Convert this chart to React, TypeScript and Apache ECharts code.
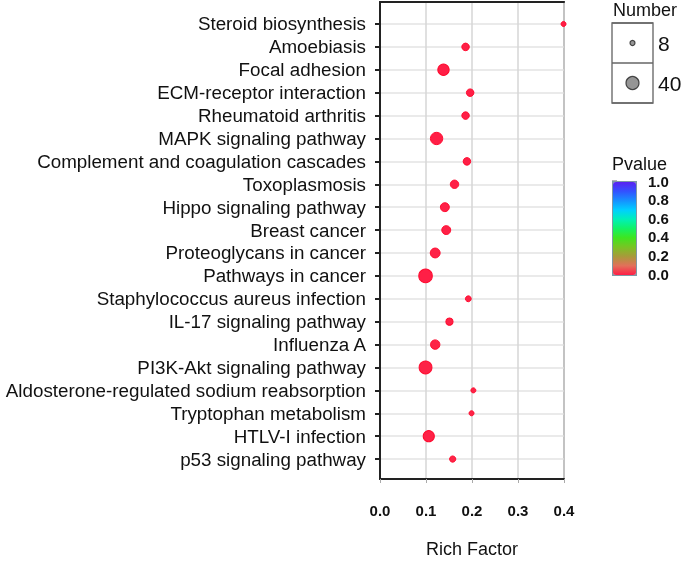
import { useEffect, useRef } from "react";
import * as echarts from "echarts";

const categories = [
  "Steroid biosynthesis",
  "Amoebiasis",
  "Focal adhesion",
  "ECM-receptor interaction",
  "Rheumatoid arthritis",
  "MAPK signaling pathway",
  "Complement and coagulation cascades",
  "Toxoplasmosis",
  "Hippo signaling pathway",
  "Breast cancer",
  "Proteoglycans in cancer",
  "Pathways in cancer",
  "Staphylococcus aureus infection",
  "IL-17 signaling pathway",
  "Influenza A",
  "PI3K-Akt signaling pathway",
  "Aldosterone-regulated sodium reabsorption",
  "Tryptophan metabolism",
  "HTLV-I infection",
  "p53 signaling pathway",
];
const richFactor = [0.399, 0.186, 0.138, 0.196, 0.186, 0.123, 0.189, 0.162, 0.141, 0.144, 0.12, 0.099, 0.192, 0.151, 0.12, 0.099, 0.203, 0.199, 0.106, 0.158];
const geneNumber = [8, 15, 31, 15, 15, 36, 15, 18, 20, 20, 24, 43, 10, 14, 22, 39, 8, 8, 30, 11];
const pValue = [0.0004, 0.0021, 0.0009, 0.0015, 0.0026, 0.0011, 0.0018, 0.0032, 0.0041, 0.0038, 0.0044, 0.0012, 0.0051, 0.0062, 0.0071, 0.0058, 0.0066, 0.0073, 0.0049, 0.0081];
const richTicks = [0, 0.1, 0.2, 0.3, 0.4];
const sizeBreaks = [8, 40];
const pColors = ["#ff1e46", "#e2705a", "#a89a3a", "#78c424", "#3fe520", "#12f266", "#00f0b8", "#00cfff", "#1690ff", "#3352ff", "#5a22f0"];

const FONT = "Liberation Sans, Arial, Helvetica, sans-serif";
const sizeOf = (n: number) => Math.sqrt(Math.max(4.5 * n - 11, 4));

export default function App() {
  const ref = useRef<HTMLDivElement>(null);
  useEffect(() => {
    if (!ref.current) return;
    const chart = echarts.init(ref.current, null, { renderer: "svg" });
    const N = categories.length;
    const idx = categories.map((_, i) => i);
    const mainData = categories.map((_, i) => [richFactor[i], N - 1 - i, geneNumber[i], pValue[i]]);
    chart.setOption({
      animation: false,
      textStyle: { fontFamily: FONT },
      title: [
        { text: "Number", left: 613, top: 1, padding: 0, textStyle: { fontSize: 18, lineHeight: 18, fontWeight: "normal", color: "#111", fontFamily: FONT } },
        { text: "Pvalue", left: 612, top: 155, padding: 0, textStyle: { fontSize: 18, lineHeight: 18, fontWeight: "normal", color: "#111", fontFamily: FONT } },
      ],
      grid: [
        { left: 380, top: 2, width: 184, height: 477, show: true, borderColor: "#8c8c8c", borderWidth: 2, containLabel: false, outerBoundsMode: "none" },
        { left: 612, top: 23, width: 41, height: 80, show: true, borderColor: "#777", borderWidth: 1.5, outerBoundsMode: "none" },
        { left: 612, top: 181, width: 23, height: 93, show: false, outerBoundsMode: "none" },
      ],
      xAxis: [
        {
          gridIndex: 0, type: "value", min: 0, max: 0.4, interval: 0.1,
          axisLine: { show: true, onZero: false, lineStyle: { color: "#222", width: 2 } },
          axisTick: { show: true, length: 4, lineStyle: { color: "#aaa" } },
          axisLabel: { formatter: (v: number) => v.toFixed(1), fontSize: 15, fontWeight: "bold", color: "#111", margin: 24, fontFamily: FONT, customValues: richTicks },
          splitLine: { show: true, lineStyle: { color: "#d6d6d6", width: 1.5 } },
          name: "Rich Factor", nameLocation: "middle", nameGap: 61,
          nameTextStyle: { fontSize: 18, lineHeight: 18, color: "#111", fontFamily: FONT },
        },
        {
          gridIndex: 0, type: "value", min: 0, max: 0.4, position: "top",
          axisLine: { show: true, onZero: false, lineStyle: { color: "#222", width: 2 } },
          axisTick: { show: false }, axisLabel: { show: false }, splitLine: { show: false },
        },
        { gridIndex: 1, type: "value", min: -1, max: 1, show: false },
        { gridIndex: 2, type: "value", min: 0, max: 1, show: false },
      ],
      yAxis: [
        {
          gridIndex: 0, type: "value", min: -0.87, max: 19.96,
          axisLine: { show: true, onZero: false, lineStyle: { color: "#222", width: 2 } },
          axisTick: { show: true, length: 5, customValues: idx, lineStyle: { color: "#222", width: 2 } },
          axisLabel: {
            customValues: idx,
            formatter: (v: number) => categories[N - 1 - Math.round(v)],
            fontSize: 18.8, color: "#111", margin: 14, fontFamily: FONT,
          },
          splitLine: { show: true, lineStyle: { color: "#e3e3e3", width: 1.5 } },
        },
        {
          gridIndex: 1, type: "category", data: ["40", "8"], position: "right",
          axisLine: { show: false }, axisTick: { show: false },
          axisLabel: { fontSize: 21, color: "#111", margin: 5, fontFamily: FONT },
          splitLine: { show: true, interval: 0, lineStyle: { color: "#666", width: 1.5 } },
        },
        {
          gridIndex: 2, type: "value", min: 0, max: 1, interval: 0.2, position: "right",
          axisLine: { show: false },
          axisTick: { show: true, length: 5, lineStyle: { color: "#999", width: 1.5 } },
          axisLabel: { formatter: (v: number) => v.toFixed(1), fontSize: 15, lineHeight: 13, fontWeight: "bold", color: "#111", margin: 13, fontFamily: FONT },
          splitLine: { show: false },
        },
      ],
      visualMap: {
        type: "continuous", min: 0, max: 1, dimension: 3, seriesIndex: 0,
        left: 612, top: 181, itemWidth: 23, itemHeight: 93, padding: 0,
        calculable: false, hoverLink: false, text: null,
        borderColor: "#7f98a6", borderWidth: 2,
        inRange: { color: pColors },
      },
      series: [
        {
          type: "scatter", xAxisIndex: 0, yAxisIndex: 0, data: mainData,
          symbolSize: (val: number[]) => sizeOf(val[2]),
          itemStyle: { borderColor: "#ff0a2e", borderWidth: 1, opacity: 1 },
          z: 5,
        },
        {
          type: "scatter", xAxisIndex: 2, yAxisIndex: 1,
          data: sizeBreaks.map((n) => [0, String(n), n]),
          symbolSize: (val: any[]) => sizeOf(val[2]),
          itemStyle: { color: "#7a7a7a", borderColor: "#222", borderWidth: 1.2 },
        },
      ],
    });
    return () => chart.dispose();
  }, []);
  return <div ref={ref} style={{ position: "fixed", left: 0, top: 0, width: 685, height: 561 }} />;
}
